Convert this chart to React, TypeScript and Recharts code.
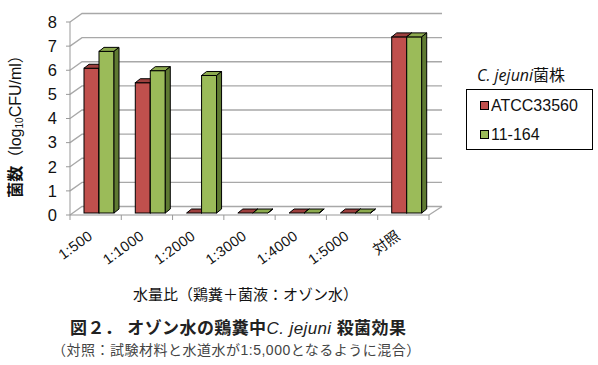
import React from 'react';
import { BarChart, Bar, XAxis, YAxis, CartesianGrid } from 'recharts';

const categories = ['1:500', '1:1000', '1:2000', '1:3000', '1:4000', '1:5000', '対照'];
const atccValues = [6.0, 5.4, 0, 0, 0, 0, 7.3];
const strainValues = [6.7, 5.9, 5.7, 0, 0, 0, 7.3];
const yTicks = [0, 1, 2, 3, 4, 5, 6, 7, 8];
const seriesNames = ['ATCC33560', '11-164'];
const seriesColors = ['#C0504D', '#9BBB59'];

const data = categories.map((c, i) => ({ name: c, atcc: atccValues[i], s11: strainValues[i] }));

const DX = 12;
const DY = -8.5;
const JP = '"Liberation Sans", Arial, "Noto Sans CJK JP", sans-serif';

const makeShape = (face: string, top: string, side: string) => (props: any) => {
  const { x, y, width, height } = props;
  const fx = x + 3;
  const fy = y - 2;
  const w = width;
  const h = Math.max(height, 0);
  const ox = 5;
  const oy = -4;
  return (
    <g>
      <rect x={fx} y={fy} width={w} height={h} fill={face} stroke="#000" strokeWidth={1} />
      <polygon
        points={`${fx},${fy} ${fx + ox},${fy + oy} ${fx + w + ox},${fy + oy} ${fx + w},${fy}`}
        fill={top}
        stroke="#000"
        strokeWidth={1}
        strokeLinejoin="round"
      />
      <polygon
        points={`${fx + w},${fy} ${fx + w + ox},${fy + oy} ${fx + w + ox},${fy + h + oy} ${fx + w},${fy + h}`}
        fill={side}
        stroke="#000"
        strokeWidth={1}
        strokeLinejoin="round"
      />
    </g>
  );
};

const redShape = makeShape('#C0504D', '#9E403E', '#8A3533');
const greenShape = makeShape('#9BBB59', '#8CAA4E', '#5F7A32');

const gridLine = (props: any) => {
  const { x1, x2, y1, y, height, index } = props;
  const bottom = (y ?? 0) + (height ?? 0);
  const isFloor = Math.abs(y1 - bottom) < 1;
  return (
    <g key={`g-${index}-${y1}`}>
      <polyline
        points={`${x1},${y1} ${x1 + DX},${y1 + DY} ${x2 + DX + 1},${y1 + DY}`}
        fill="none"
        stroke="#A8A8A8"
        strokeWidth={1.3}
      />
      {isFloor && (
        <line x1={x2} y1={y1} x2={x2 + DX + 1} y2={y1 + DY} stroke="#A8A8A8" strokeWidth={1.3} />
      )}
    </g>
  );
};

const XTick = (props: any) => {
  const { x, y, payload, index, width } = props;
  const band = (width || 359) / categories.length;
  const last = index === categories.length - 1;
  const axisY = y - 8;
  const tx = x - 2;
  const ty = axisY + 23;
  return (
    <g>
      <line x1={x - band / 2} y1={axisY} x2={x - band / 2} y2={axisY + 5} stroke="#999" />
      {last && <line x1={x + band / 2} y1={axisY} x2={x + band / 2} y2={axisY + 5} stroke="#999" />}
      <text
        x={tx}
        y={ty}
        textAnchor="end"
        fontSize={14.5}
        fill="#111"
        fontFamily={JP}
        letterSpacing={0.3}
        transform={`rotate(-36 ${tx} ${ty})`}
      >
        {payload.value}
      </text>
    </g>
  );
};

const YLabel = (props: any) => {
  const vb = props.viewBox || {};
  const cx = (vb.x ?? 8) + 7;
  const cy = (vb.y ?? 22) + (vb.height ?? 193) / 2 + 4;
  return (
    <text
      x={cx}
      y={cy}
      transform={`rotate(-90 ${cx} ${cy})`}
      textAnchor="middle"
      dominantBaseline="central"
      fontSize={16}
      fontFamily={JP}
      fill="#111"
    >
      <tspan fontWeight="bold">菌数</tspan>
      <tspan>（log</tspan>
      <tspan fontSize={10} dy={4}>10</tspan>
      <tspan dy={-4}>CFU/ml）</tspan>
    </text>
  );
};

const LegendBox = () => (
  <div style={{ position: 'absolute', left: 466, top: 62, width: 128, fontFamily: JP, color: '#111' }}>
    <div style={{ fontSize: 16, marginLeft: 11, height: 27, lineHeight: '27px', whiteSpace: 'nowrap' }}>
      <span style={{ fontStyle: 'italic', fontFamily: '"Open Sans", "Liberation Sans", sans-serif' }}>C. jejuni</span>
      <span>菌株</span>
    </div>
    <div style={{ border: '1px solid #000', width: 127, height: 61, boxSizing: 'border-box', paddingTop: 1 }}>
      {seriesNames.map((name, i) => (
        <div key={name} style={{ display: 'flex', alignItems: 'center', height: 29, marginLeft: 13 }}>
          <span
            style={{
              display: 'inline-block',
              width: 9,
              height: 9,
              background: seriesColors[i],
              border: '1px solid #000',
              marginRight: 2,
              boxSizing: 'border-box',
            }}
          />
          <span style={{ fontSize: 16 }}>{name}</span>
        </div>
      ))}
    </div>
  </div>
);

export default function App() {
  return (
    <div style={{ position: 'absolute', left: 0, top: 0, width: 598, height: 365, background: '#fff' }}>
      <BarChart
        width={598}
        height={365}
        data={data}
        margin={{ top: 22, right: 169, bottom: 90, left: 8 }}
        barGap={0}
        barSize={15}
      >
        <CartesianGrid horizontal={gridLine as any} vertical={false} />
        <XAxis
          dataKey="name"
          axisLine={{ stroke: '#999' }}
          tickLine={false}
          tick={<XTick />}
          interval={0}
          height={60}
        />
        <YAxis
          domain={[0, 8]}
          ticks={yTicks}
          interval={0}
          width={62}
          axisLine={{ stroke: '#999' }}
          tickLine={{ stroke: '#999' }}
          tickSize={4}
          tickMargin={9}
          tick={{ fontSize: 16.5, fill: '#111', fontFamily: JP }}
          label={{ content: (p: any) => <YLabel {...p} /> } as any}
        />
        <Bar dataKey="atcc" name={seriesNames[0]} fill={seriesColors[0]} shape={redShape} isAnimationActive={false} />
        <Bar dataKey="s11" name={seriesNames[1]} fill={seriesColors[1]} shape={greenShape} isAnimationActive={false} />
      </BarChart>
      <LegendBox />
      <div
        style={{
          position: 'absolute',
          left: 133,
          top: 283,
          fontSize: 15,
          fontFamily: JP,
          color: '#111',
          whiteSpace: 'nowrap',
        }}
      >
        水量比（鶏糞＋菌液：オゾン水）
      </div>
      <div
        style={{
          position: 'absolute',
          left: 70,
          top: 314,
          fontSize: 17,
          fontFamily: JP,
          fontWeight: 'bold',
          color: '#222',
          whiteSpace: 'nowrap',
          letterSpacing: 0.4,
        }}
      >
        図２． オゾン水の鶏糞中<span style={{ fontStyle: 'italic', fontWeight: 'normal' }}>C. jejuni</span> 殺菌効果
      </div>
      <div
        style={{
          position: 'absolute',
          left: 52,
          top: 339,
          fontSize: 14,
          fontFamily: JP,
          color: '#444',
          whiteSpace: 'nowrap',
          letterSpacing: 0.5,
        }}
      >
        （対照：試験材料と水道水が1:5,000となるように混合）
      </div>
    </div>
  );
}
